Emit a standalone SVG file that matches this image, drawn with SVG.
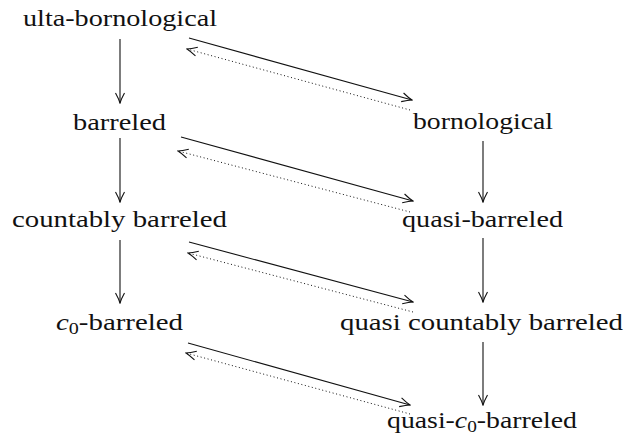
<svg xmlns="http://www.w3.org/2000/svg" width="624" height="439" viewBox="0 0 624 439">
  <style>
    .lbl { font-family: 'Liberation Serif', 'Times New Roman', Times, serif; font-size: 23px; fill: #111; text-anchor: middle; }
    .it { font-style: italic; }
    .sub { font-size: 16px; }
    .solid { stroke: #111; stroke-width: 1.1; fill: none; marker-end: url(#head); }
    .dot { stroke: #111; stroke-width: 1; fill: none; stroke-dasharray: 1 2.6; marker-end: url(#head); }
  </style>
  <defs>
    <marker id="head" markerUnits="userSpaceOnUse" viewBox="-11 -6 12 12" refX="0" refY="0" markerWidth="12" markerHeight="12" orient="auto">
      <path d="M-10,-4.5 Q-4,-1.2 0,0 Q-4,1.2 -10,4.5" fill="none" stroke="#111" stroke-width="1.1"/>
    </marker>
  </defs>

  <!-- left column -->
  <g id="ulta-bornological"><text class="lbl" x="120" y="26" textLength="194" lengthAdjust="spacingAndGlyphs">ulta-bornological</text></g>
  <g id="barreled"><text class="lbl" x="119.5" y="130" textLength="93" lengthAdjust="spacingAndGlyphs">barreled</text></g>
  <g id="countably-barreled"><text class="lbl" x="119.5" y="227" textLength="215" lengthAdjust="spacingAndGlyphs">countably barreled</text></g>
  <g id="c0-barreled"><text class="lbl" x="119.5" y="330" textLength="127" lengthAdjust="spacingAndGlyphs"><tspan class="it">c</tspan><tspan class="sub" dy="4">0</tspan><tspan dy="-4">-barreled</tspan></text></g>

  <!-- right column -->
  <g id="bornological"><text class="lbl" x="483" y="129" textLength="140" lengthAdjust="spacingAndGlyphs">bornological</text></g>
  <g id="quasi-barreled"><text class="lbl" x="482.5" y="227" textLength="161" lengthAdjust="spacingAndGlyphs">quasi-barreled</text></g>
  <g id="quasi-countably-barreled"><text class="lbl" x="481.5" y="330" textLength="283" lengthAdjust="spacingAndGlyphs">quasi countably barreled</text></g>
  <g id="quasi-c0-barreled"><text class="lbl" x="482" y="428" textLength="190" lengthAdjust="spacingAndGlyphs">quasi-<tspan class="it">c</tspan><tspan class="sub" dy="4">0</tspan><tspan dy="-4">-barreled</tspan></text></g>

  <g id="connectors">
    <!-- vertical implications -->
    <line class="solid" x1="120" y1="39" x2="120" y2="103"/>
    <line class="solid" x1="120" y1="138" x2="120" y2="202"/>
    <line class="solid" x1="120" y1="240" x2="120" y2="303"/>
    <line class="solid" x1="483" y1="141" x2="483" y2="202"/>
    <line class="solid" x1="483" y1="238" x2="483" y2="302"/>
    <line class="solid" x1="483" y1="342" x2="483" y2="405"/>
    <!-- diagonal implications and partial converses -->
    <line class="solid" x1="189" y1="38" x2="412" y2="100"/>
    <line class="dot" x1="410" y1="110" x2="187" y2="49"/>
    <line class="solid" x1="181" y1="137" x2="413" y2="201"/>
    <line class="dot" x1="410" y1="212" x2="178" y2="151"/>
    <line class="solid" x1="189" y1="242" x2="413" y2="302"/>
    <line class="dot" x1="413" y1="312" x2="188" y2="253"/>
    <line class="solid" x1="188" y1="343" x2="410" y2="405"/>
    <line class="dot" x1="410" y1="414" x2="186" y2="353"/>
  </g>
</svg>
